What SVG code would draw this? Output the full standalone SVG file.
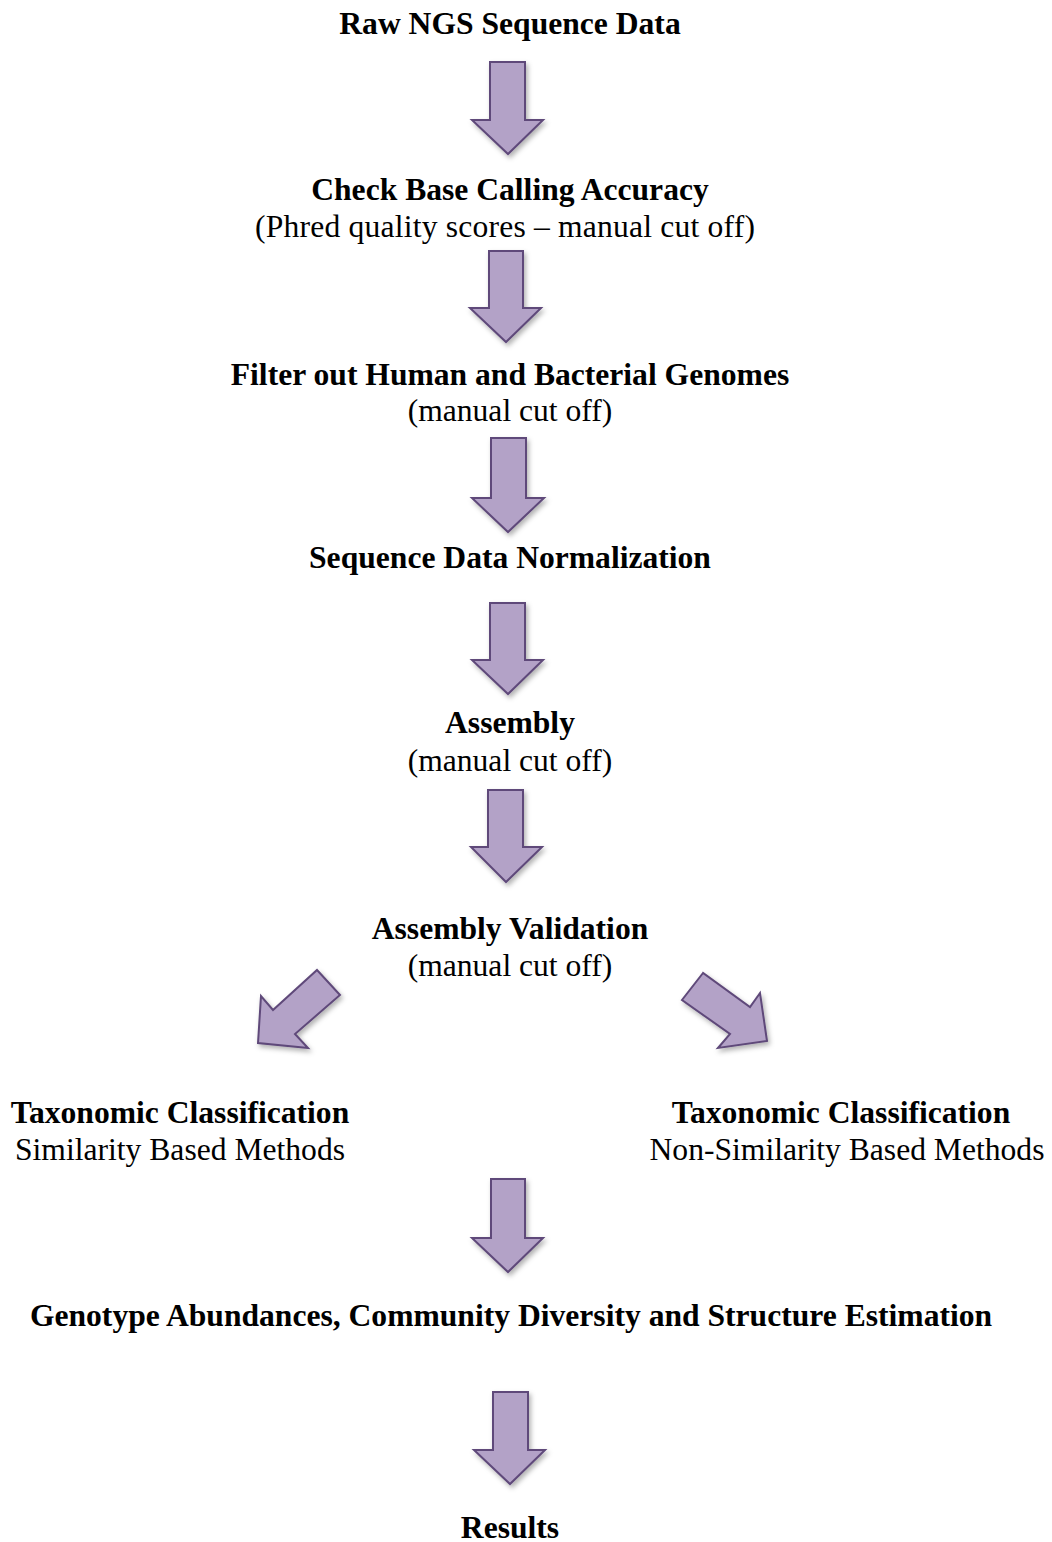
<svg xmlns="http://www.w3.org/2000/svg" width="1052" height="1542" viewBox="0 0 1052 1542">
<defs>
<style>
text{font-family:"Liberation Serif","Times New Roman",serif;font-size:31.6px;fill:#000;text-anchor:middle}
.b{font-weight:bold}
.arr{fill:#B3A2C7;stroke:#5F497A;stroke-width:2;stroke-linejoin:miter;filter:url(#sh)}
</style>
<filter id="sh" x="-30%" y="-30%" width="160%" height="160%">
<feDropShadow dx="2" dy="3" stdDeviation="2.5" flood-color="#000" flood-opacity="0.3"/>
</filter>
</defs>
<rect width="1052" height="1542" fill="#fff"/>
<g id="connectors">
<polygon class="arr" points="490,62 525,62 525,120 543,120 508,154 472,120 490,120"/>
<polygon class="arr" points="489,251 523,251 523,308 541,308 506,342 470,308 489,308"/>
<polygon class="arr" points="491,438 526,438 526,498 544,498 508,532 472,498 491,498"/>
<polygon class="arr" points="490,603 525,603 525,660 543,660 508,694 472,660 490,660"/>
<polygon class="arr" points="488,790 523,790 523,847 542,847 506,882 471,847 488,847"/>
<polygon class="arr" points="317,970 340,995 295,1034 308,1048 258,1043 261,996 273,1010"/>
<polygon class="arr" points="703,973 682,1000 730,1034 718,1048 767,1041 760,993 750,1007"/>
<polygon class="arr" points="491,1179 525,1179 525,1238 543,1238 508,1272 472,1238 491,1238"/>
<polygon class="arr" points="493,1392 528,1392 528,1450 545,1450 510,1484 474,1450 493,1450"/>
</g>
<g id="node-raw"><text class="b" x="510" y="34">Raw NGS Sequence Data</text></g>
<g id="node-check"><text class="b" x="510" y="200">Check Base Calling Accuracy</text><text x="505" y="237" textLength="500" lengthAdjust="spacing">(Phred quality scores – manual cut off)</text></g>
<g id="node-filter"><text class="b" x="510" y="385">Filter out Human and Bacterial Genomes</text><text x="510" y="421">(manual cut off)</text></g>
<g id="node-normalization"><text class="b" x="510" y="568">Sequence Data Normalization</text></g>
<g id="node-assembly"><text class="b" x="510" y="733">Assembly</text><text x="510" y="771">(manual cut off)</text></g>
<g id="node-validation"><text class="b" x="510" y="939">Assembly Validation</text><text x="510" y="976">(manual cut off)</text></g>
<g id="node-tax-sim"><text class="b" x="180" y="1123">Taxonomic Classification</text><text x="180" y="1160">Similarity Based Methods</text></g>
<g id="node-tax-nonsim"><text class="b" x="841" y="1123">Taxonomic Classification</text><text x="847" y="1160">Non-Similarity Based Methods</text></g>
<g id="node-genotype"><text class="b" x="511" y="1326">Genotype Abundances, Community Diversity and Structure Estimation</text></g>
<g id="node-results"><text class="b" x="510" y="1538">Results</text></g>
</svg>
